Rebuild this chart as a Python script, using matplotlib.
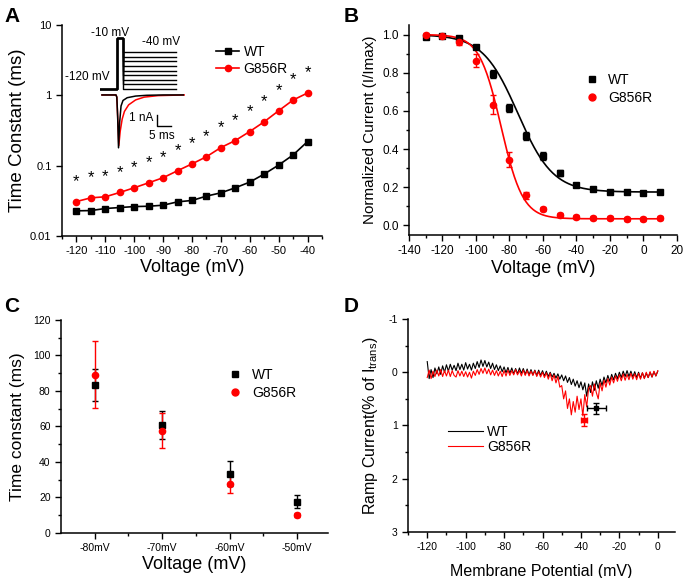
import numpy as np
import matplotlib.pyplot as plt
from matplotlib.ticker import MultipleLocator, NullFormatter
from matplotlib.lines import Line2D

plt.rcParams['font.family'] = ['Liberation Sans', 'DejaVu Sans']
plt.rcParams['mathtext.fontset'] = 'custom'
plt.rcParams['mathtext.rm'] = 'Liberation Sans'
plt.rcParams['mathtext.it'] = 'Liberation Sans'
plt.rcParams['axes.unicode_minus'] = False
plt.rcParams['xtick.direction'] = 'out'
plt.rcParams['ytick.direction'] = 'out'

# ---- panel A: inactivation time constants (log scale)
volt_a = [-120, -115, -110, -105, -100, -95, -90, -85, -80, -75, -70, -65, -60, -55, -50, -45, -40]
tau_wt = [0.0228, 0.0230, 0.0246, 0.0254, 0.0262, 0.0265, 0.0274, 0.0306, 0.032, 0.0369,
          0.0411, 0.0485, 0.0584, 0.076, 0.102, 0.142, 0.220]
tau_mut = [0.0309, 0.0349, 0.0361, 0.0416, 0.0485, 0.0571, 0.0674, 0.0848, 0.106, 0.134,
           0.181, 0.228, 0.306, 0.421, 0.604, 0.858, 1.08]

# inset protocol / traces
prot_levels = [-120, -110, -100, -90, -80, -70, -60, -50, -40]
trace_t_wt = [0, 5.0, 5.3, 5.6, 5.9, 6.3, 6.8, 7.5, 9, 12, 16, 22, 29]
trace_i_wt = [0, 0, -0.2, -2.0, -4.8, -2.5, -1.0, -0.5, -0.25, -0.1, -0.03, 0, 0]
trace_t_mut = [0, 5.0, 5.3, 5.6, 6.0, 6.5, 7.2, 8, 9.5, 12, 15, 20, 29.3]
trace_i_mut = [0, 0, -0.2, -2.0, -4.6, -3.3, -2.2, -1.5, -0.9, -0.45, -0.2, -0.06, 0]

# ---- panel B: steady-state inactivation
volt_b = [-130, -120, -110, -100, -90, -80, -70, -60, -50, -40, -30, -20, -10, 0, 10]
norm_wt = [0.986, 0.995, 0.982, 0.934, 0.794, 0.615, 0.47, 0.365, 0.273, 0.213, 0.19, 0.175, 0.173, 0.17, 0.173]
err_wt = [0.01, 0.01, 0.01, 0.01, 0.02, 0.02, 0.02, 0.02, 0.015, 0.01, 0.01, 0.01, 0.01, 0.01, 0.01]
norm_mut = [1.0, 0.995, 0.96, 0.864, 0.633, 0.344, 0.157, 0.086, 0.056, 0.044, 0.038, 0.038, 0.035, 0.035, 0.037]
err_mut = [0.01, 0.01, 0.015, 0.035, 0.05, 0.04, 0.02, 0.01, 0.01, 0.01, 0.01, 0.01, 0.01, 0.01, 0.01]
# Boltzmann fit parameters: top, bottom, V1/2, slope
fit_wt = (1.0, 0.175, -75.0, 10.5)
fit_mut = (1.0, 0.035, -85.0, 6.5)

# ---- panel C: recovery time constants
cats_c = ['-80mV', '-70mV', '-60mV', '-50mV']
tc_wt = [83.2, 60.9, 33.5, 17.6]
tc_wt_err = [9.0, 7.7, 7.0, 3.6]
tc_mut = [89.2, 57.7, 27.4, 10.0]
tc_mut_err = [19.0, 10.0, 4.7, 1.0]

# ---- panel D: ramp currents (1 mV steps from -120 to 0)
ramp_v = list(range(-120, 1))
ramp_wt = [-0.2, 0.12, -0.05, 0.1, -0.08, 0.03, -0.1, 0.04, -0.12, 0.0,
           -0.14, -0.02, -0.15, -0.04, -0.13, -0.03, -0.17, -0.05, -0.15, -0.04,
           -0.18, -0.06, -0.15, -0.04, -0.17, -0.07, -0.2, -0.09, -0.23, -0.11,
           -0.22, -0.1, -0.19, -0.07, -0.17, -0.05, -0.14, -0.03, -0.12, -0.01,
           -0.1, 0.01, -0.09, 0.02, -0.08, 0.03, -0.07, 0.03, -0.08, 0.02,
           -0.07, 0.04, -0.06, 0.05, -0.05, 0.05, -0.04, 0.06, -0.04, 0.06,
           -0.03, 0.07, -0.02, 0.08, 0.0, 0.09, 0.02, 0.11, 0.03, 0.13,
           0.05, 0.16, 0.07, 0.19, 0.1, 0.23, 0.13, 0.26, 0.16, 0.29,
           0.18, 0.33, 0.2, 0.45, 0.22, 0.38, 0.18, 0.34, 0.16, 0.3,
           0.13, 0.25, 0.09, 0.2, 0.06, 0.17, 0.04, 0.14, 0.02, 0.12,
           0.0, 0.1, -0.02, 0.08, -0.03, 0.08, -0.02, 0.09, -0.01, 0.1,
           0.0, 0.11, 0.01, 0.11, 0.02, 0.1, 0.0, 0.09, -0.01, 0.07, -0.02]
ramp_mut = [0.1, -0.04, 0.12, -0.02, 0.08, -0.04, 0.07, -0.05, 0.08, -0.03,
            0.07, -0.04, 0.08, -0.03, 0.06, 0.09, -0.03, 0.07, -0.02, 0.08,
            -0.01, 0.09, 0.0, 0.11, -0.02, 0.06, -0.05, 0.04, -0.07, 0.02,
            -0.08, 0.03, -0.06, 0.05, -0.04, 0.06, -0.03, 0.07, -0.02, 0.08,
            -0.03, 0.07, -0.04, 0.06, -0.03, 0.05, -0.05, 0.05, -0.03, 0.07,
            -0.04, 0.06, -0.03, 0.07, -0.02, 0.06, -0.03, 0.08, -0.01, 0.09,
            0.0, 0.1, 0.01, 0.13, 0.02, 0.16, 0.05, 0.2, 0.08, 0.28,
            0.25, 0.5, 0.35, 0.68, 0.5, 0.8, 0.55, 0.75, 0.45, 0.7,
            0.5, 0.82, 0.42, 0.65, 0.3, 0.25, 0.45, 0.22, 0.38, 0.5,
            0.2, 0.35, 0.15, 0.28, 0.12, 0.24, 0.09, 0.2, 0.07, 0.17,
            0.05, 0.16, 0.03, 0.15, 0.04, 0.14, 0.02, 0.13, 0.03, 0.14,
            0.02, 0.13, 0.01, 0.12, 0.0, 0.1, -0.01, 0.09, -0.02, 0.07, -0.03]
peak_wt = (-32, 0.68, 4.8, 0.1)   # V, I, xerr, yerr
peak_mut = (-38.4, 0.9, 1.5, 0.11)

fig = plt.figure(figsize=(6.83, 5.78), dpi=100)


def style(ax, size=7.5):
    for s in ['top', 'right']:
        ax.spines[s].set_visible(False)
    for s in ['left', 'bottom']:
        ax.spines[s].set_linewidth(1.1)
    ax.tick_params(which='major', length=4, width=1, labelsize=size)
    ax.tick_params(which='minor', length=2.5, width=1)


def marker_legend(ax, anchor):
    hs = [Line2D([], [], ls='none', marker='s', color='k', ms=5),
          Line2D([], [], ls='none', marker='o', color='red', ms=5)]
    ax.legend(hs, ['WT', 'G856R'], loc='upper left', bbox_to_anchor=anchor, frameon=False,
              fontsize=10, handlelength=1.2, borderaxespad=0, labelspacing=0.3,
              handletextpad=0.6)


# A
axA = fig.add_axes([0.0908, 0.5917, 0.3806, 0.365])
axA.plot(volt_a, tau_wt, 'k-s', ms=4.5, lw=1.2, label='WT')
axA.plot(volt_a, tau_mut, '-o', color='red', ms=4.5, lw=1.2, label='G856R')
axA.set_yscale('log')
axA.set_ylim(0.01, 10)
axA.set_xlim(-125, -35)
axA.set_yticks([0.01, 0.1, 1, 10])
axA.set_yticklabels(['0.01', '0.1', '1', '10'])
axA.yaxis.set_minor_formatter(NullFormatter())
axA.set_xticks(range(-120, -39, 10))
axA.xaxis.set_minor_locator(MultipleLocator(5))
style(axA, 8)
axA.tick_params(axis='y', which='minor', length=0)
for v, t in zip(volt_a, tau_mut):
    axA.annotate('*', (v, t), xytext=(0, 9), textcoords='offset points',
                 ha='center', va='bottom', fontsize=12)
axA.set_xlabel('Voltage (mV)', fontsize=13, labelpad=2)
axA.set_ylabel('Time Constant (ms)', fontsize=13.5, labelpad=3)
axA.legend(loc='upper left', bbox_to_anchor=(0.57, 0.93), frameon=False, fontsize=10,
           handlelength=1.7, borderaxespad=0, labelspacing=0.2, handletextpad=0.3)

# A inset: protocol
insP = fig.add_axes([100 / 683, 1 - 92 / 578, 85 / 683, 62 / 578])
insP.set_xlim(-0.7, 29.6)
insP.set_ylim(-126.5, 7.6)
insP.axis('off')
for lv in prot_levels:
    insP.plot([-0.7, 5.4, 5.4, 7.4, 7.4, 26.5], [-120, -120, -10, -10, lv, lv], 'k-', lw=1)
insP.text(2.9, 2, '-10 mV', ha='center', va='center', fontsize=8.5, clip_on=False)
insP.text(21, -18, '-40 mV', ha='center', va='center', fontsize=8.5, clip_on=False)
insP.text(-5.4, -94, '-120 mV', ha='center', va='center', fontsize=8.5, clip_on=False)

# A inset: current traces
insI = fig.add_axes([100 / 683, 1 - 152 / 578, 85 / 683, 62 / 578])
insI.set_xlim(-0.7, 29.6)
insI.set_ylim(-5.18, 0.45)
insI.axis('off')
insI.plot(trace_t_mut, trace_i_mut, color='red', lw=1.1)
insI.plot(trace_t_wt, trace_i_wt, 'k-', lw=1.1)
insI.plot([19.6, 19.6, 24.6], [-1.82, -2.82, -2.82], 'k-', lw=1)
insI.text(18.4, -2.1, '1 nA', ha='right', va='center', fontsize=8.5)
insI.text(21.4, -3.73, '5 ms', ha='center', va='center', fontsize=8.5)


# B
def boltz(v, p):
    top, bot, vh, k = p
    return bot + (top - bot) / (1 + np.exp((v - vh) / k))


axB = fig.add_axes([0.5988, 0.5934, 0.3924, 0.3633])
vv = np.linspace(-130, 10, 300)
axB.plot(vv, boltz(vv, fit_wt), 'k-', lw=1.2)
axB.plot(vv, boltz(vv, fit_mut), '-', color='red', lw=1.2)
axB.errorbar(volt_b, norm_wt, yerr=err_wt, fmt='s', color='k', ms=4.5, capsize=2, elinewidth=1)
axB.errorbar(volt_b, norm_mut, yerr=err_mut, fmt='o', color='red', ms=4.5, capsize=2, elinewidth=1)
axB.set_xlim(-140, 20)
axB.set_ylim(-0.05, 1.05)
axB.set_xticks(range(-140, 21, 20))
axB.xaxis.set_minor_locator(MultipleLocator(10))
axB.set_yticks([0, 0.2, 0.4, 0.6, 0.8, 1.0])
axB.yaxis.set_minor_locator(MultipleLocator(0.1))
style(axB, 8.5)
axB.set_xlabel('Voltage (mV)', fontsize=13, labelpad=2)
axB.set_ylabel('Normalized Current (I/Imax)', fontsize=11, labelpad=4)
marker_legend(axB, (0.63, 0.8))

# C
axC = fig.add_axes([0.0893, 0.0779, 0.391, 0.3685])
xc = np.arange(1, len(cats_c) + 1)
axC.errorbar(xc, tc_wt, yerr=tc_wt_err, fmt='s', color='k', ms=4.5, capsize=2, elinewidth=1)
axC.errorbar(xc, tc_mut, yerr=tc_mut_err, fmt='o', color='red', ms=4.5, capsize=2, elinewidth=1)
axC.set_xlim(0.5, 4.46)
axC.set_ylim(0, 120)
axC.set_xticks(xc)
axC.set_xticklabels(cats_c)
axC.set_xticks(xc[:-1] + 0.5, minor=True)
axC.set_yticks(range(0, 121, 20))
axC.yaxis.set_minor_locator(MultipleLocator(10))
style(axC)
axC.set_xlabel('Voltage (mV)', fontsize=13, labelpad=2)
axC.set_ylabel('Time constant (ms)', fontsize=12.5, labelpad=6)
marker_legend(axC, (0.6, 0.8))

# D
axD = fig.add_axes([0.5974, 0.0796, 0.391, 0.3685])
axD.plot(ramp_v, ramp_wt, 'k-', lw=0.8, label='WT')
axD.plot(ramp_v, ramp_mut, '-', color='red', lw=0.8, label='G856R')
axD.errorbar(peak_wt[0], peak_wt[1], xerr=peak_wt[2], yerr=peak_wt[3], fmt='s', color='k',
             ms=3.5, capsize=2, elinewidth=1)
axD.errorbar(peak_mut[0], peak_mut[1], xerr=peak_mut[2], yerr=peak_mut[3], fmt='s', color='red',
             ms=3.5, capsize=2, elinewidth=1)
axD.set_xlim(-130, 9)
axD.set_ylim(3, -1)
axD.set_xticks(range(-120, 1, 20))
axD.xaxis.set_minor_locator(MultipleLocator(10))
axD.set_yticks([-1, 0, 1, 2, 3])
axD.yaxis.set_minor_locator(MultipleLocator(0.5))
style(axD)
axD.set_xlabel('Membrane Potential (mV)', fontsize=11.5, labelpad=8)
axD.set_ylabel('Ramp Current(% of I$_{trans}$)', fontsize=11.5, labelpad=6)
axD.legend(loc='upper left', bbox_to_anchor=(0.13, 0.53), frameon=False, fontsize=10,
           handlelength=2.5, borderaxespad=0, labelspacing=0.1, handletextpad=0.3)

# panel letters
for x, y, s in [(4, 16, 'A'), (344, 16, 'B'), (4, 306, 'C'), (344, 306, 'D')]:
    fig.text(x / 683, 1 - y / 578, s, fontsize=15, fontweight='bold', va='center', ha='left')

fig.savefig('out.png', dpi=100)
